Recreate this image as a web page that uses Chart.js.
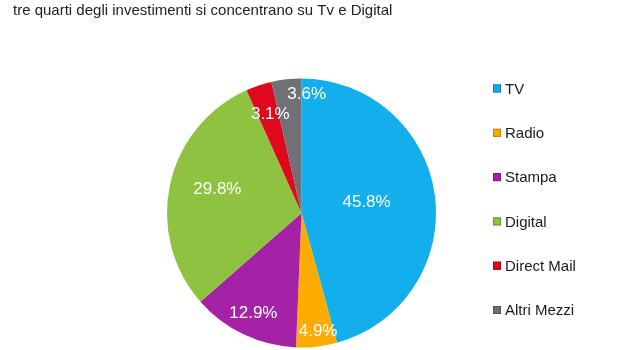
<!DOCTYPE html>
<html>
<head>
<meta charset="utf-8">
<script src="https://cdn.jsdelivr.net/npm/chart.js@4.4.1/dist/chart.umd.min.js"></script>
<style>
html,body{margin:0;padding:0;background:#fff;}
#wrap{position:relative;width:633px;height:350px;}
</style>
</head>
<body>
<div id="wrap"><canvas id="c" width="633" height="350"></canvas></div>
<script>
const titleText = "tre quarti degli investimenti si concentrano su Tv e Digital";
const categories = ["TV", "Radio", "Stampa", "Digital", "Direct Mail", "Altri Mezzi"];
const values = [45.8, 4.9, 12.9, 29.8, 3.1, 3.6];
const valueLabels = ["45.8%", "4.9%", "12.9%", "29.8%", "3.1%", "3.6%"];
const colors = ["#12AFEC", "#FCAC00", "#A522A6", "#8FC241", "#DF081D", "#707176"];
const legendBorders = ["#0E7FB0", "#C08400", "#7A1A7C", "#6A9230", "#A00615", "#505155"];
// label placement: fraction of radius and angle shift (degrees) per slice
const labelRadius = [0.49, 0.89, 0.83, 0.65, 0.77, 0.88];
const labelShift = [-1.5, -1.5, 0, 3.5, 1, 9];

const labelPlugin = {
  id: 'sliceLabels',
  afterDatasetsDraw(chart) {
    const ctx = chart.ctx;
    const meta = chart.getDatasetMeta(0);
    ctx.save();
    ctx.font = '17px "Liberation Sans", Arial, sans-serif';
    ctx.fillStyle = '#ffffff';
    ctx.textAlign = 'center';
    ctx.textBaseline = 'middle';
    meta.data.forEach((arc, i) => {
      const p = arc.getProps(['x','y','startAngle','endAngle','outerRadius'], true);
      const mid = (p.startAngle + p.endAngle) / 2 + labelShift[i] * Math.PI / 180;
      const r = p.outerRadius * labelRadius[i];
      ctx.fillText(valueLabels[i], p.x + Math.cos(mid) * r, p.y + Math.sin(mid) * r);
    });
    ctx.restore();
  }
};

const legendPlugin = {
  id: 'sideLegend',
  afterDraw(chart) {
    const ctx = chart.ctx;
    const x0 = 493, y0 = 88.5, step = 44.3, box = 8;
    ctx.save();
    ctx.font = '15px "Liberation Sans", Arial, sans-serif';
    ctx.textBaseline = 'middle';
    ctx.textAlign = 'left';
    categories.forEach((c, i) => {
      const y = y0 + i * step;
      ctx.fillStyle = colors[i];
      ctx.fillRect(x0, y - box / 2, box, box);
      ctx.strokeStyle = legendBorders[i];
      ctx.lineWidth = 1;
      ctx.strokeRect(x0 + 0.5, y - box / 2 + 0.5, box - 1, box - 1);
      ctx.fillStyle = '#1a1a1a';
      ctx.fillText(c, x0 + 12, y + 1);
    });
    ctx.restore();
  }
};

new Chart(document.getElementById('c'), {
  type: 'pie',
  data: {
    labels: categories,
    datasets: [{
      data: values,
      backgroundColor: colors,
      borderWidth: 0
    }]
  },
  options: {
    responsive: false,
    animation: false,
    layout: { padding: { left: 13, right: 43, top: 0, bottom: 2.5 } },
    plugins: {
      legend: { display: false },
      tooltip: { enabled: false },
      title: {
        display: true,
        text: titleText,
        align: 'start',
        color: '#222222',
        font: { family: '"Liberation Sans", Arial, sans-serif', size: 15, weight: 'normal', lineHeight: 1.2 },
        padding: { top: 1.5, bottom: 59 }
      }
    }
  },
  plugins: [labelPlugin, legendPlugin]
});
</script>
</body>
</html>
